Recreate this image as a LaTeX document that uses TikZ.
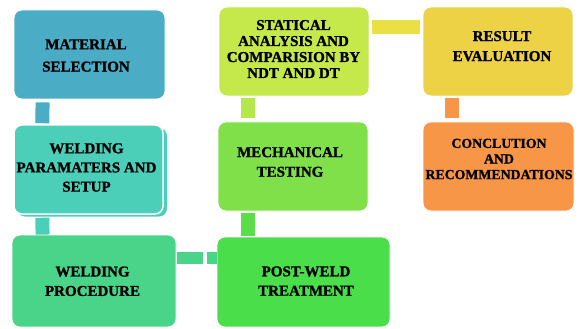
\documentclass[tikz,border=0pt]{standalone}
\usepackage{fontspec}
\setmainfont{Liberation Serif}[BoldFont={Liberation Serif Bold},BoldFeatures={FakeBold=1.2}]
\usetikzlibrary{calc}
\definecolor{cA}{HTML}{4BACC6}
\definecolor{cB}{HTML}{4BCFB8}
\definecolor{cC}{HTML}{4AD489}
\definecolor{cD}{HTML}{4ADE4A}
\definecolor{cE}{HTML}{80E04A}
\definecolor{cF}{HTML}{C5E84A}
\definecolor{cG}{HTML}{EDD245}
\definecolor{cH}{HTML}{F79646}
\definecolor{kDE}{HTML}{5ADF4A}
\definecolor{kEF}{HTML}{B2E84A}
\definecolor{kFG}{HTML}{EAE044}
\tikzset{
  box/.style={rectangle, rounded corners=8pt, draw=white, line width=0.8pt, inner sep=0pt},
  lbl/.style={align=center, text=black, inner sep=0pt, font=\bfseries},
  conn/.style={line width=14pt},
}
\newcommand{\fsz}[1]{\fontsize{15}{#1}\selectfont}
\begin{document}
\begin{tikzpicture}[x=1pt,y=-1pt]
\useasboundingbox (0,0) rectangle (579,329);
% shadow of box 2
\fill[cB, rounded corners=8pt] (17,128) rectangle (167,216.5);
\node[box, fill=cA, minimum width=151, minimum height=89] (b1) at (89.5,54.5) {};
\node[box, fill=cB, minimum width=149, minimum height=89, line width=1.5pt] (b2) at (88.5,169.5) {};
\node[box, fill=cC, minimum width=164, minimum height=92] (b3) at (94,281) {};
\node[box, fill=cD, minimum width=173, minimum height=90] (b4) at (303.5,282) {};
\node[box, fill=cE, minimum width=150, minimum height=89] (b5) at (293,166.5) {};
\node[box, fill=cF, minimum width=150, minimum height=89] (b6) at (294,51.5) {};
\node[box, fill=cG, minimum width=150, minimum height=89] (b7) at (498,51.5) {};
\node[box, fill=cH, minimum width=151, minimum height=89] (b8) at (498.5,166.5) {};
% labels
\node[lbl, font=\bfseries\fsz{22.3}] (t1) at (86,55.5) {MATERIAL\\SELECTION};
\node[lbl, font=\bfseries\fsz{19.2}] (t2) at (86.5,167.5) {WELDING\\PARAMATERS AND\\SETUP};
\node[lbl, font=\bfseries\fsz{19.4}] (t3) at (92.5,281.3) {WELDING\\PROCEDURE};
\node[lbl, font=\bfseries\fsz{19.4}] (t4) at (306,281) {POST-WELD\\TREATMENT};
\node[lbl, font=\bfseries\fsz{19.6}] (t5) at (290,162) {MECHANICAL\\TESTING};
\node[lbl, font=\bfseries\fsz{16}] (t6) at (293.5,49) {STATICAL\\ANALYSIS AND\\COMPARISION BY\\NDT AND DT};
\node[lbl, font=\bfseries\fsz{20}] (t7) at (502,46.2) {RESULT\\EVALUATION};
\node[lbl, font=\bfseries\fontsize{13.8}{15.6}\selectfont] (t8) at (499,159) {CONCLUTION\\AND\\RECOMMENDATIONS};
% connectors
\draw[conn, cA] ($(b1.south west)+(29,3)$) -- ($(b2.north west)+(29,-1)$);
\draw[conn, cB] ($(b2.south west)+(29,3)$) -- ($(b3.north west)+(31,0)$);
\draw[conn, cC, line width=12pt] ($(b3.north east)+(1,23)$) -- ($(b4.north west)+(-14,21)$);
\draw[conn, cC, line width=12pt] ($(b4.north west)+(-10,21)$) -- ($(b4.north west)+(0,21)$);
\draw[conn, kDE] ($(b5.south west)+(30,2)$) -- ($(b4.north west)+(31,-1)$);
\draw[conn, kEF] ($(b6.south west)+(29,2)$) -- ($(b5.north west)+(30,-4)$);
\draw[conn, kFG] ($(b6.north east)+(3,20)$) -- ($(b7.north west)+(-3,20)$);
\draw[conn, cH] ($(b7.south west)+(29,2)$) -- ($(b8.north west)+(29,-4)$);
\end{tikzpicture}
\end{document}
